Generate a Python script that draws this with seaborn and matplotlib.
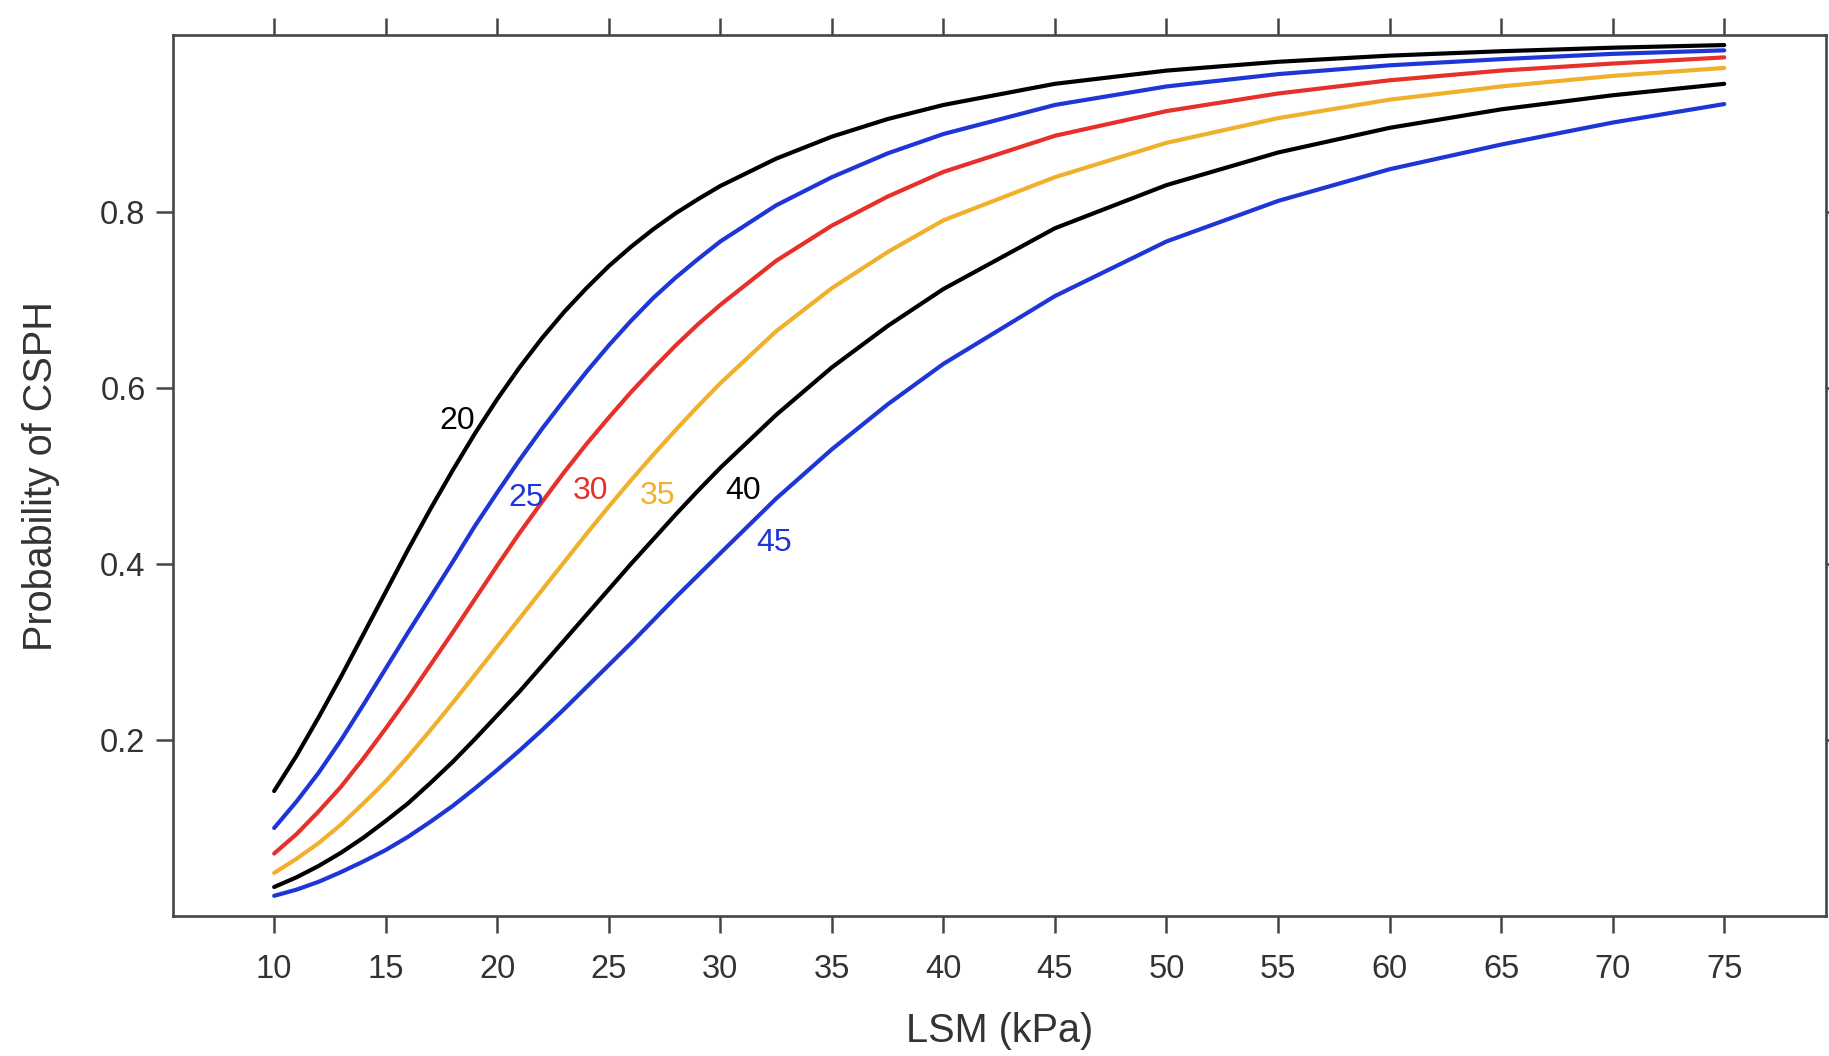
import matplotlib
matplotlib.use("Agg")
import matplotlib.pyplot as plt
import pandas as pd
import seaborn as sns

# LSM values (kPa) at which each probability curve is sampled
lsm_kpa = [10, 11, 12, 13, 14, 15, 16, 17, 18, 19, 20, 21, 22, 23, 24, 25,
           26, 27, 28, 29, 30, 32.5, 35, 37.5, 40, 45, 50, 55, 60, 65, 70, 75]

# Probability of CSPH for each curve
prob_20 = [0.142, 0.182, 0.226, 0.272, 0.320, 0.368, 0.416, 0.462, 0.506, 0.548,
           0.587, 0.623, 0.656, 0.686, 0.713, 0.738, 0.760, 0.780, 0.798, 0.814,
           0.829, 0.860, 0.885, 0.905, 0.921, 0.945, 0.960, 0.970, 0.977, 0.982,
           0.986, 0.989]
prob_25 = [0.100, 0.130, 0.163, 0.200, 0.240, 0.281, 0.322, 0.362, 0.402, 0.443,
           0.481, 0.518, 0.553, 0.586, 0.618, 0.648, 0.676, 0.702, 0.725, 0.746,
           0.766, 0.807, 0.839, 0.866, 0.888, 0.921, 0.942, 0.956, 0.966, 0.973,
           0.979, 0.983]
prob_30 = [0.071, 0.093, 0.119, 0.147, 0.179, 0.213, 0.248, 0.285, 0.322, 0.360,
           0.398, 0.435, 0.470, 0.504, 0.536, 0.566, 0.595, 0.622, 0.648, 0.672,
           0.694, 0.744, 0.784, 0.817, 0.845, 0.886, 0.914, 0.934, 0.949, 0.960,
           0.968, 0.975]
prob_35 = [0.049, 0.065, 0.083, 0.104, 0.128, 0.153, 0.181, 0.211, 0.242, 0.274,
           0.306, 0.338, 0.370, 0.402, 0.434, 0.465, 0.495, 0.524, 0.552, 0.579,
           0.605, 0.664, 0.713, 0.754, 0.790, 0.839, 0.878, 0.906, 0.927, 0.942,
           0.954, 0.963]
prob_40 = [0.033, 0.044, 0.057, 0.072, 0.089, 0.108, 0.128, 0.151, 0.175, 0.201,
           0.228, 0.255, 0.284, 0.313, 0.342, 0.371, 0.400, 0.428, 0.456, 0.483,
           0.509, 0.569, 0.623, 0.670, 0.712, 0.781, 0.830, 0.867, 0.895, 0.916,
           0.932, 0.945]
prob_45 = [0.023, 0.030, 0.039, 0.050, 0.062, 0.075, 0.090, 0.107, 0.125, 0.145,
           0.166, 0.188, 0.211, 0.235, 0.260, 0.285, 0.310, 0.336, 0.362, 0.387,
           0.412, 0.474, 0.530, 0.581, 0.627, 0.704, 0.766, 0.812, 0.848, 0.876,
           0.901, 0.922]

curve_names = ["20", "25", "30", "35", "40", "45"]
curve_values = [prob_20, prob_25, prob_30, prob_35, prob_40, prob_45]
curve_colors = ["#000000", "#1f36d6", "#e8302a", "#f0b02c", "#000000", "#1f36d6"]

# Where each curve's label sits (data coordinates)
label_x = [18.2, 21.3, 24.2, 27.2, 31.0, 32.4]
label_y = [0.562, 0.475, 0.483, 0.477, 0.483, 0.424]

x_ticks = [10, 15, 20, 25, 30, 35, 40, 45, 50, 55, 60, 65, 70, 75]
y_ticks = [0.2, 0.4, 0.6, 0.8]

sns.set_theme(style="white")
plt.rcParams["font.family"] = ["Liberation Sans", "DejaVu Sans"]

rows = []
for name, vals in zip(curve_names, curve_values):
    for x, p in zip(lsm_kpa, vals):
        rows.append({"lsm": x, "prob": p, "curve": name})
df = pd.DataFrame(rows)

fig = plt.figure(figsize=(18.29, 10.56), dpi=100)
ax = fig.add_axes([0.0944, 0.1325, 0.9038, 0.8340])

sns.lineplot(data=df, x="lsm", y="prob", hue="curve",
             palette=dict(zip(curve_names, curve_colors)),
             estimator=None, sort=False, linewidth=3.0, legend=False, ax=ax)

for name, color, tx, ty in zip(curve_names, curve_colors, label_x, label_y):
    ax.text(tx, ty, name, color=color, fontsize=23, ha="center", va="center")

axis_color = "#454545"
ax.set_xlim(5.45, 79.55)
ax.set_ylim(0, 1)
ax.set_xticks(x_ticks)
ax.set_xticklabels([str(t) for t in x_ticks])
ax.set_yticks(y_ticks)
ax.set_yticklabels([f"{t:.1f}" for t in y_ticks])
ax.tick_params(axis="both", direction="out", length=12.5, width=1.8, color=axis_color,
               labelsize=23.5, labelcolor="#333333", bottom=True, left=True,
               top=True, right=True, labeltop=False, labelright=False)
ax.tick_params(axis="x", pad=15)
ax.tick_params(axis="y", pad=7)
for side in ["left", "right", "top", "bottom"]:
    ax.spines[side].set_visible(True)
    ax.spines[side].set_color(axis_color)
    ax.spines[side].set_linewidth(1.9)

ax.set_xlabel("LSM (kPa)", fontsize=28.5, color="#333333")
ax.set_ylabel("Probability of CSPH", fontsize=28.5, color="#333333")
ax.xaxis.set_label_coords(0.5, -0.131)
ax.xaxis.label.set_verticalalignment("center")
ax.yaxis.set_label_coords(-0.0796, 0.5)
ax.yaxis.label.set_verticalalignment("center")

fig.savefig("out.png", dpi=100, facecolor="white")
